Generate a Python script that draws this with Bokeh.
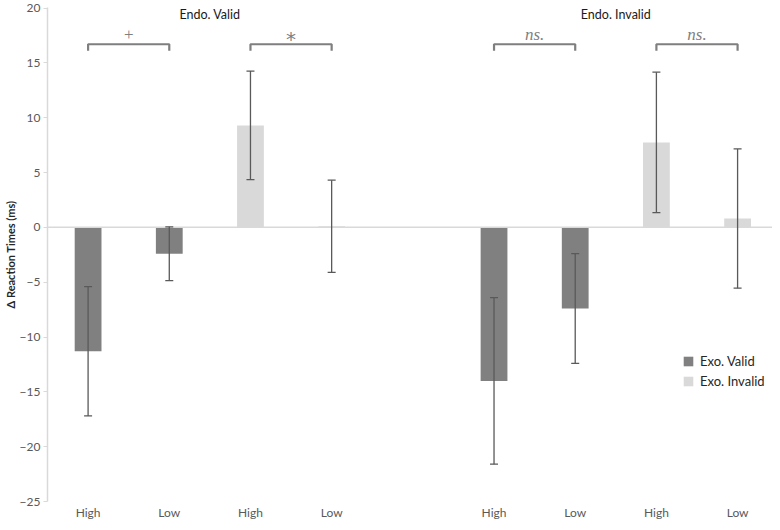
from bokeh.plotting import figure
from bokeh.models import (ColumnDataSource, Whisker, TeeHead, Span, FixedTicker,
                          Legend, LegendItem, Range1d)
from bokeh.core.properties import value
from bokeh.embed import file_html
from bokeh.resources import INLINE

# ---- data ----
groups = ["Endo. Valid", "Endo. Invalid"]
levels = ["High", "Low", "High", "Low", "High", "Low", "High", "Low"]
series_names = ["Exo. Valid", "Exo. Invalid"]
# bar index (0..7) of each series
valid_idx = [0, 1, 4, 5]
invalid_idx = [2, 3, 6, 7]
valid_vals = [-11.3, -2.4, -14.0, -7.4]
valid_err = [5.9, 2.45, 7.6, 5.0]
invalid_vals = [9.3, 0.1, 7.75, 0.8]
invalid_err = [4.95, 4.2, 6.4, 6.35]
sig_pairs = [(0, 1), (2, 3), (4, 5), (6, 7)]
sig_labels = ["+", "*", "ns.", "ns."]
y_ticks = [-25, -20, -15, -10, -5, 0, 5, 10, 15, 20]

# positions: 4 bars per group, one empty slot between groups
def pos(i):
    return i + (1 if i >= 4 else 0)

xs_all = [pos(i) for i in range(len(levels))]

DARK = "#808080"
LIGHT = "#d9d9d9"
AXIS = "#d9d9d9"
TXT = "#595959"
FONT = "Lato"

p = figure(width=772, height=522, output_backend="svg", toolbar_location=None,
           x_range=Range1d(-0.5, 8.43), y_range=Range1d(-25, 20.05),
           min_border_left=40, min_border_right=0, min_border_top=7,
           min_border_bottom=12)
p.outline_line_color = None
p.xgrid.visible = False
p.ygrid.visible = False

src_v = ColumnDataSource(dict(
    x=[pos(i) for i in valid_idx], top=valid_vals,
    upper=[v + e for v, e in zip(valid_vals, valid_err)],
    lower=[v - e for v, e in zip(valid_vals, valid_err)]))
src_i = ColumnDataSource(dict(
    x=[pos(i) for i in invalid_idx], top=invalid_vals,
    upper=[v + e for v, e in zip(invalid_vals, invalid_err)],
    lower=[v - e for v, e in zip(invalid_vals, invalid_err)]))

r_v = p.vbar(x="x", top="top", bottom=0, width=0.33, source=src_v,
             fill_color=DARK, line_color=None)
r_i = p.vbar(x="x", top="top", bottom=0, width=0.33, source=src_i,
             fill_color=LIGHT, line_color=None)

p.add_layout(Span(location=0, dimension="width", line_color=AXIS, line_width=1.5))

for src in (src_v, src_i):
    w = Whisker(base="x", upper="upper", lower="lower", source=src,
                level="overlay", line_color="#595959", line_width=1.3,
                upper_head=TeeHead(size=8, line_color="#595959", line_width=1.3),
                lower_head=TeeHead(size=8, line_color="#595959", line_width=1.3))
    p.add_layout(w)

# group titles
gx = [(pos(4 * g) + pos(4 * g + 3)) / 2 for g in range(len(groups))]
p.text(x=gx, y=[19.45] * len(groups), text=groups, text_align="center",
       text_baseline="middle", text_font=value(FONT), text_font_size="12.5px",
       text_color="#1a1a1a")

# significance brackets
by = 16.7
drop = 0.6
bxs, bys = [], []
for a, b in sig_pairs:
    bxs.append([pos(a), pos(a), pos(b), pos(b)])
    bys.append([by - drop, by, by, by - drop])
p.multi_line(xs=bxs, ys=bys, line_color="#7f7f7f", line_width=2.2)
for (a, b), lab in zip(sig_pairs, sig_labels):
    is_star = lab == "*"
    p.text(x=[(pos(a) + pos(b)) / 2], y=[by + 0.9], text=[lab],
           text_align="center", text_baseline="middle",
           text_font=value("DejaVu Sans" if is_star else "Liberation Serif"),
           text_font_size="20px" if is_star else "17px",
           y_offset=5 if is_star else 0,
           text_font_style="italic" if lab.startswith("ns") else "normal",
           text_color="#7f7f7f")

# axes
p.yaxis.ticker = FixedTicker(ticks=y_ticks)
p.yaxis.axis_line_color = AXIS
p.yaxis.axis_line_width = 1.5
p.yaxis.major_tick_line_color = AXIS
p.yaxis.major_tick_out = 4
p.yaxis.major_tick_in = 0
p.yaxis.minor_tick_line_color = None
p.yaxis.major_label_text_font = FONT
p.yaxis.major_label_text_font_size = "12px"
p.yaxis.major_label_text_color = TXT
p.yaxis.major_label_standoff = 3
p.yaxis.axis_label = "\u0394 Reaction Times (ms)"
p.yaxis.axis_label_text_font = FONT
p.yaxis.axis_label_text_font_size = "11px"
p.yaxis.axis_label_text_font_style = "bold"
p.yaxis.axis_label_text_color = "#262626"
p.yaxis.axis_label_standoff = 0

p.xaxis.ticker = FixedTicker(ticks=xs_all)
p.xaxis.major_label_overrides = {x: lab for x, lab in zip(xs_all, levels)}
p.xaxis.axis_line_color = None
p.xaxis.major_tick_line_color = None
p.xaxis.major_tick_out = 0
p.xaxis.minor_tick_line_color = None
p.xaxis.major_label_text_font = FONT
p.xaxis.major_label_text_font_size = "12px"
p.xaxis.major_label_text_color = TXT
p.xaxis.major_label_standoff = 3

legend = Legend(items=[LegendItem(label=series_names[0], renderers=[r_v]),
                       LegendItem(label=series_names[1], renderers=[r_i])],
                location=(635, 112), glyph_width=12, glyph_height=12,
                label_height=12, spacing=4, padding=0, margin=0,
                label_standoff=6, border_line_color=None,
                background_fill_alpha=0, label_text_font=FONT,
                label_text_font_size="13px", label_text_color="#262626")
p.add_layout(legend)

open("out.html", "w").write(file_html(p, INLINE))
